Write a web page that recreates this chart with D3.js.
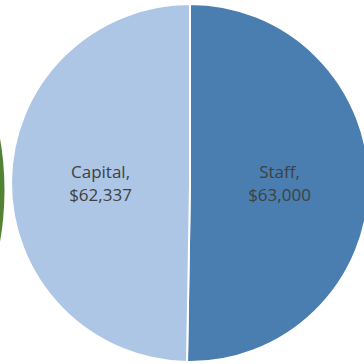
<!DOCTYPE html>
<html>
<head>
<meta charset="utf-8">
<script src="https://cdn.jsdelivr.net/npm/d3@7/dist/d3.min.js"></script>
<style>
  html, body { margin: 0; padding: 0; background: #fff; }
  svg { display: block; }
</style>
</head>
<body>
<svg id="chart" width="364" height="364"></svg>
<script>
// Budget split
const categories = ["Staff", "Capital"];
const amounts = [63000, 62337];
const colors = ["#4a7eb0", "#adc6e5"];

// Neighbouring pie, only its rim shows at the left edge
const neighborValues = [1];
const neighborColors = ["#548235"];

const width = 364, height = 364;
const cx = 190, cy = 183, radius = 179;

const svg = d3.select("#chart");
const fmt = d3.format("$,");

// Neighbour pie rim
const nRadius = 300;
const nPie = d3.pie().sort(null)(neighborValues);
svg.append("g")
  .attr("transform", `translate(${4.5 - nRadius},190)`)
  .selectAll("path")
  .data(nPie)
  .join("path")
  .attr("d", d3.arc().innerRadius(0).outerRadius(nRadius))
  .attr("fill", (d, i) => neighborColors[i]);

// Main pie
const pie = d3.pie().sort(null).value(d => d)(amounts);
const arc = d3.arc().innerRadius(0).outerRadius(radius);
const labelArc = d3.arc().innerRadius(radius * 0.5).outerRadius(radius * 0.5);

const g = svg.append("g").attr("transform", `translate(${cx},${cy})`);

g.selectAll("path")
  .data(pie)
  .join("path")
  .attr("d", arc)
  .attr("fill", (d, i) => colors[i])
  .attr("stroke", "#fff")
  .attr("stroke-width", 2)
  .attr("stroke-linejoin", "round");

// Labels sit on the horizontal through the centre, halfway out
const labels = g.selectAll("text")
  .data(pie)
  .join("text")
  .attr("transform", d => `translate(${labelArc.centroid(d)[0]},0)`)
  .attr("text-anchor", "middle")
  .attr("fill", "#404040")
  .style("font-family", "'Open Sans', 'Liberation Sans', sans-serif")
  .style("font-size", "17px");

labels.append("tspan")
  .attr("x", 0)
  .attr("y", -5)
  .text((d, i) => categories[i] + ",");
labels.append("tspan")
  .attr("x", 0)
  .attr("y", 18)
  .text(d => fmt(d.data));
</script>
</body>
</html>
